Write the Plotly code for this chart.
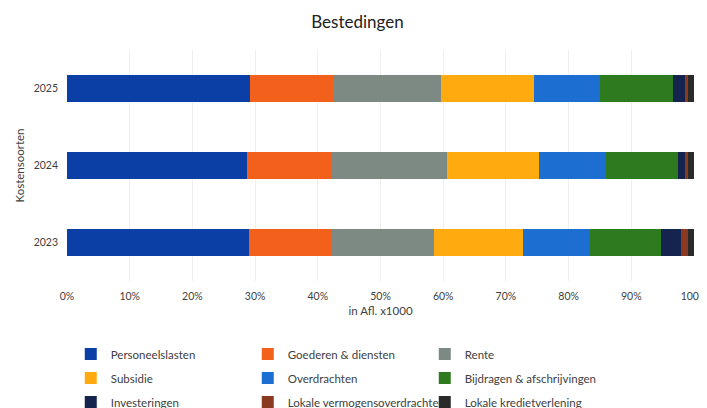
import plotly.graph_objects as go

years = ["2023", "2024", "2025"]
series_names = [
    "Personeelslasten", "Goederen & diensten", "Rente",
    "Subsidie", "Overdrachten", "Bijdragen & afschrijvingen",
    "Investeringen", "Lokale vermogensoverdrachten", "Lokale kredietverlening",
]
personeelslasten = [29.0, 28.75, 29.2]
goederen_diensten = [13.3, 13.55, 13.2]
rente = [16.1, 18.2, 17.2]
subsidie = [14.2, 14.7, 14.8]
overdrachten = [10.8, 10.7, 10.6]
bijdragen = [11.3, 11.5, 11.5]
investeringen = [3.1, 1.0, 2.0]
lokale_vermogen = [1.1, 0.5, 0.5]
lokale_krediet = [1.0, 1.0, 0.9]
values = [personeelslasten, goederen_diensten, rente, subsidie, overdrachten,
          bijdragen, investeringen, lokale_vermogen, lokale_krediet]
colors = ["#0b3fa6", "#f2601c", "#7d8a84", "#ffab0f", "#1c6fd0",
          "#2e7b1f", "#15244e", "#8a3a1e", "#2a2a2a"]
x_ticks = [0, 10, 20, 30, 40, 50, 60, 70, 80, 90, 100]
x_tick_labels = [f"{t}%" for t in x_ticks]

legend_ids = ["legend", "legend2", "legend3"]

fig = go.Figure()
for i, (name, vals, c) in enumerate(zip(series_names, values, colors)):
    fig.add_trace(go.Bar(y=years, x=vals, name=name, orientation="h",
                         legend=legend_ids[i // 3],
                         marker=dict(color=c, line=dict(width=0))))

# page body has an 8px default margin, so the figure is 699x400 and offset by 8px
W, H = 699, 400
ML, MR, MT, MB = 59, 13, 42, 127
plot_h = H - MT - MB
plot_bottom_page = 8 + H - MB

def leg_y(px):
    return (plot_bottom_page - px) / plot_h

font_family = "Lato, Open Sans, sans-serif"
txt = "#404040"
leg_common = dict(orientation="h", x=0.006, xanchor="left", yanchor="middle",
                  entrywidth=132, entrywidthmode="pixels", traceorder="normal",
                  font=dict(size=11.5, color=txt), itemwidth=30,
                  bgcolor="rgba(0,0,0,0)")

fig.update_layout(
    barmode="stack", barnorm="percent", bargap=0.65,
    width=W, height=H,
    margin=dict(l=ML, r=MR, t=MT, b=MB, autoexpand=False),
    paper_bgcolor="white", plot_bgcolor="white",
    font=dict(family=font_family, size=11, color=txt),
    title=dict(text="Bestedingen", x=0.5, xanchor="center", y=0.965, yanchor="middle",
               font=dict(size=17, color="#222222")),
    xaxis=dict(range=[0, 100], tickvals=x_ticks, ticktext=x_tick_labels,
               showgrid=True, gridcolor="#efefef", gridwidth=1, zeroline=False,
               showline=False, ticks="", automargin=False, ticklabeloverflow="allow",
               ticklabelstandoff=7,
               tickfont=dict(size=10.5, color=txt),
               title=dict(text="in Afl. x1000", font=dict(size=11.5, color=txt), standoff=6)),
    yaxis=dict(categoryorder="array", categoryarray=years, showgrid=False,
               ticks="", ticklabelstandoff=8, automargin=False,
               tickfont=dict(size=10.5, color=txt),
               title=dict(text="Kostensoorten", font=dict(size=11.5, color=txt), standoff=6)),
    legend=dict(leg_common, y=leg_y(354)),
    legend2=dict(leg_common, y=leg_y(378)),
    legend3=dict(leg_common, y=leg_y(402)),
    showlegend=True,
)

fig.write_html(
    "out.html",
    post_script=(
        "document.documentElement.style.overflow='hidden';"
        "document.body.style.overflow='hidden';"
        "document.querySelectorAll('.main-svg').forEach(function(s){s.style.overflow='visible';});"
    ),
)
